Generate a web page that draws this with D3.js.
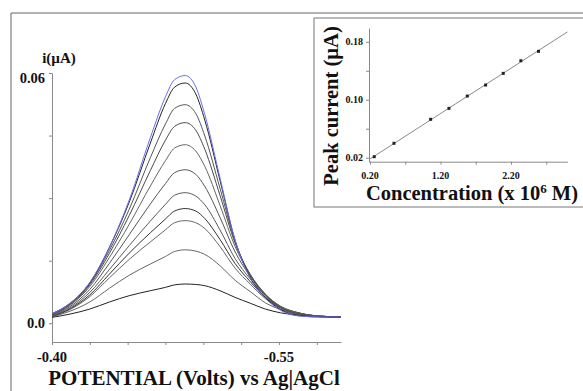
<!DOCTYPE html>
<html><head><meta charset="utf-8">
<script src="https://cdn.jsdelivr.net/npm/d3@7"></script>
<style>
body{margin:0;background:#fff}
svg{display:block}
text{font-family:"Liberation Serif","Times New Roman",serif;font-weight:bold;fill:#111}
</style>
</head><body>
<svg id="c" width="583" height="391"></svg>
<script>
// ---- main voltammogram data ----
const potentials = [-0.400,-0.412,-0.425,-0.438,-0.451,-0.465,-0.475,-0.481,-0.488,-0.495,-0.501,-0.511,-0.521,-0.531,-0.541,-0.551,-0.564,-0.577,-0.591];
const currentSeries = [
  [0.0023,0.0048,0.0098,0.0183,0.0295,0.0445,0.0543,0.0584,0.0594,0.0567,0.0500,0.0349,0.0199,0.0108,0.0060,0.0031,0.0017,0.0015,0.0015],
  [0.0023,0.0048,0.0097,0.0182,0.0290,0.0432,0.0527,0.0566,0.0576,0.0550,0.0487,0.0343,0.0199,0.0110,0.0062,0.0033,0.0018,0.0015,0.0015],
  [0.0021,0.0046,0.0095,0.0175,0.0273,0.0397,0.0478,0.0515,0.0524,0.0503,0.0449,0.0324,0.0196,0.0115,0.0066,0.0036,0.0020,0.0016,0.0015],
  [0.0020,0.0045,0.0092,0.0168,0.0258,0.0366,0.0439,0.0472,0.0481,0.0463,0.0417,0.0307,0.0192,0.0117,0.0069,0.0038,0.0022,0.0016,0.0015],
  [0.0019,0.0043,0.0088,0.0158,0.0237,0.0329,0.0390,0.0420,0.0428,0.0413,0.0376,0.0283,0.0184,0.0117,0.0070,0.0040,0.0023,0.0017,0.0015],
  [0.0018,0.0040,0.0081,0.0144,0.0212,0.0286,0.0335,0.0361,0.0368,0.0357,0.0328,0.0254,0.0171,0.0113,0.0069,0.0041,0.0024,0.0017,0.0015],
  [0.0017,0.0037,0.0074,0.0129,0.0186,0.0245,0.0285,0.0307,0.0313,0.0305,0.0284,0.0224,0.0155,0.0106,0.0066,0.0040,0.0024,0.0017,0.0015],
  [0.0016,0.0035,0.0068,0.0118,0.0168,0.0217,0.0250,0.0269,0.0275,0.0269,0.0251,0.0201,0.0143,0.0100,0.0062,0.0039,0.0024,0.0017,0.0015],
  [0.0016,0.0033,0.0064,0.0109,0.0153,0.0195,0.0224,0.0241,0.0246,0.0241,0.0227,0.0184,0.0132,0.0094,0.0059,0.0037,0.0023,0.0017,0.0015],
  [0.0015,0.0029,0.0051,0.0084,0.0115,0.0142,0.0160,0.0172,0.0176,0.0173,0.0165,0.0138,0.0103,0.0076,0.0049,0.0033,0.0022,0.0017,0.0015],
  [0.0014,0.0022,0.0034,0.0051,0.0066,0.0078,0.0086,0.0092,0.0094,0.0093,0.0090,0.0078,0.0062,0.0048,0.0034,0.0025,0.0019,0.0016,0.0015]
];
const seriesColors = ["#6b6bf2","#222","#555","#4a4a4a","#666","#555","#5a5a5a","#333","#666","#666","#222"];
const yTickValues = [0, 0.015, 0.03, 0.045, 0.06];
const yLabelValues = [0, 0.06];
const yLabelTexts = ["0.0", "0.06"];
const xTickValues = [-0.400,-0.425,-0.450,-0.475,-0.500,-0.525,-0.550,-0.575];
const xLabelValues = [-0.40, -0.55];
const xLabelTexts = ["-0.40", "-0.55"];

// ---- inset calibration data ----
const insetConc = [0.26,0.54,1.06,1.32,1.58,1.84,2.09,2.34,2.59];
const insetPeak = [0.0214,0.0399,0.0730,0.0881,0.1051,0.1203,0.1364,0.1538,0.1668];
const insetXTicks = [0.2,0.7,1.2,1.7,2.2,2.7];
const insetXLabelValues = [0.2,1.2,2.2];
const insetXLabelTexts = ["0.20","1.20","2.20"];
const insetYTicks = [0.02,0.06,0.10,0.14,0.18];
const insetYLabelValues = [0.02,0.10,0.18];
const insetYLabelTexts = ["0.02","0.10","0.18"];

const svg = d3.select("#c");

// outer frame (top + left)
svg.append("path").attr("d","M11,391V13H583").attr("fill","none").attr("stroke","#666").attr("stroke-width",1);

// ---- main chart ----
const x = d3.scaleLinear().domain([-0.40, -0.591]).range([52, 341]);
const y = d3.scaleLinear().domain([-0.0045, 0.06]).range([342, 73]);

const gy = svg.append("g").attr("transform","translate(52,0)")
  .call(d3.axisLeft(y).tickValues(yTickValues).tickSize(3).tickSizeOuter(0).tickFormat(""));
const gx = svg.append("g").attr("transform","translate(0,342)")
  .call(d3.axisBottom(x).tickValues(xTickValues).tickSize(3).tickSizeOuter(0).tickFormat(""));
[gy,gx].forEach(g=>{g.selectAll("path,line").attr("stroke","#8a8a8a");});

svg.selectAll("text.yl").data(yLabelValues).join("text").attr("class","yl")
  .attr("x",45).attr("y",(d,i)=>y(d)+(i===1?10:5)).attr("text-anchor","end")
  .attr("font-size",14.5).text((d,i)=>yLabelTexts[i]);
svg.selectAll("text.xl").data(xLabelValues).join("text").attr("class","xl")
  .attr("x",d=>x(d)).attr("y",362).attr("text-anchor","middle")
  .attr("font-size",14.5).text((d,i)=>xLabelTexts[i]);

svg.append("text").attr("x",59).attr("y",63).attr("text-anchor","middle").attr("font-size",15).text("i(µA)");
svg.append("text").attr("x",194).attr("y",385).attr("text-anchor","middle").attr("font-size",21).text("POTENTIAL (Volts) vs Ag|AgCl");

const line = d3.line().x((d,i)=>x(potentials[i])).y(d=>y(d)).curve(d3.curveMonotoneX);
const order = d3.range(currentSeries.length).reverse();
svg.append("g").selectAll("path").data(order).join("path")
  .attr("d",k=>line(currentSeries[k])).attr("fill","none")
  .attr("stroke",k=>seriesColors[k]).attr("stroke-width",1);

// ---- inset ----
svg.append("rect").attr("x",314).attr("y",18).attr("width",300).attr("height",189)
  .attr("fill","#fff").attr("stroke","#777").attr("stroke-width",1);

const ix = d3.scaleLinear().domain([0.186, 3.0]).range([369, 567.4]);
const iy = d3.scaleLinear().domain([0.0145, 0.199]).range([161.7, 28]);

const igy = svg.append("g").attr("transform","translate(369,0)")
  .call(d3.axisLeft(iy).tickValues(insetYTicks).tickSize(3).tickSizeOuter(0).tickFormat(""));
const igx = svg.append("g").attr("transform","translate(0,161.7)")
  .call(d3.axisBottom(ix).tickValues(insetXTicks).tickSize(3).tickSizeOuter(0).tickFormat(""));
[igy,igx].forEach(g=>{g.selectAll("path,line").attr("stroke","#8a8a8a");});

svg.selectAll("text.iyl").data(insetYLabelValues).join("text").attr("class","iyl")
  .attr("x",363).attr("y",d=>iy(d)+3.5).attr("text-anchor","end")
  .attr("font-size",10).text((d,i)=>insetYLabelTexts[i]);
svg.selectAll("text.ixl").data(insetXLabelValues).join("text").attr("class","ixl")
  .attr("x",d=>ix(d)).attr("y",179).attr("text-anchor","middle")
  .attr("font-size",10).text((d,i)=>insetXLabelTexts[i]);

// least-squares fit line
const mx = d3.mean(insetConc), my = d3.mean(insetPeak);
const slope = d3.sum(insetConc,(c,i)=>(c-mx)*(insetPeak[i]-my))/d3.sum(insetConc,c=>(c-mx)*(c-mx));
const icpt = my - slope*mx;
const fitX = [0.2, 3.0];
svg.append("path").attr("d", d3.line().x(d=>ix(d)).y(d=>iy(icpt+slope*d))(fitX))
  .attr("fill","none").attr("stroke","#8a8a8a").attr("stroke-width",1);
svg.append("g").selectAll("rect").data(insetConc).join("rect")
  .attr("x",(d)=>ix(d)-1.5).attr("y",(d,i)=>iy(insetPeak[i])-1.5).attr("width",3).attr("height",3)
  .attr("fill","#222");

svg.append("text").attr("transform","translate(338,106) rotate(-90)").attr("text-anchor","middle")
  .attr("font-size",20.5).text("Peak current (µA)");
const ct = svg.append("text").attr("x",472).attr("y",200).attr("text-anchor","middle").attr("font-size",20.5);
ct.append("tspan").text("Concentration (x 10");
ct.append("tspan").attr("font-size",13).attr("dy",-7).text("6");
ct.append("tspan").attr("dy",7).text(" M)");
</script>
</body></html>
